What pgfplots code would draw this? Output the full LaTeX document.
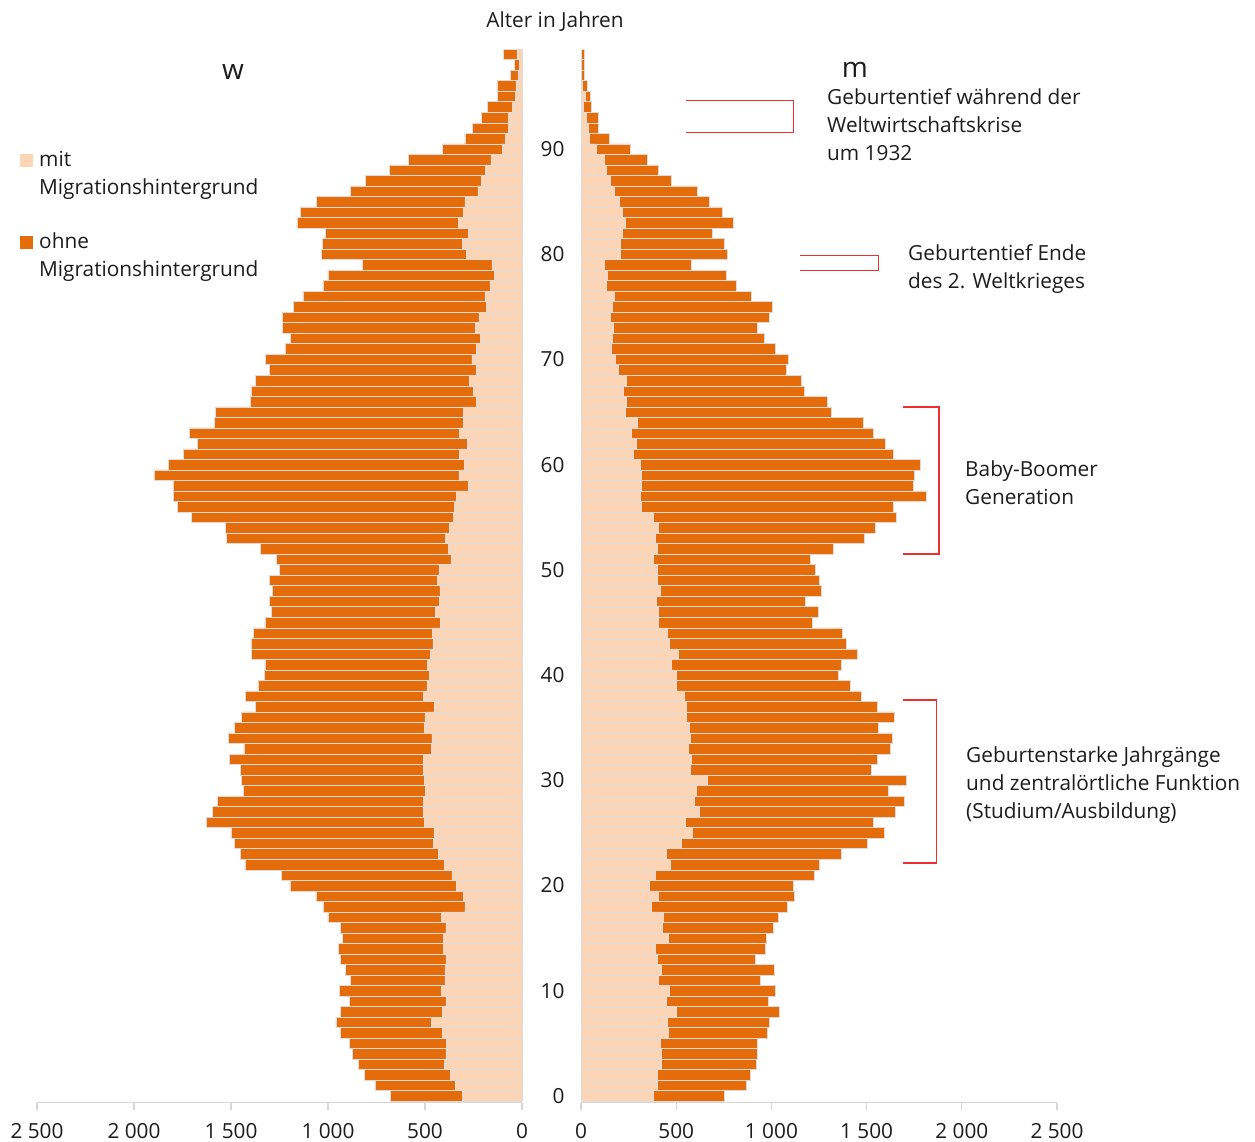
\documentclass[border=0pt]{standalone}
\usepackage{pgfplots}
\pgfplotsset{compat=1.18}
\usepackage{pgfplotstable}
\usepackage{fontspec}
\setmainfont{Open Sans}
\definecolor{ohne}{RGB}{228,108,10}
\definecolor{mit}{RGB}{251,213,181}
\definecolor{sep}{RGB}{224,219,214}
\definecolor{ann}{RGB}{236,48,48}
\definecolor{txt}{RGB}{28,28,28}
\definecolor{axl}{RGB}{215,215,215}

% age, women mit, women ohne, men mit, men ohne
\pgfplotstableread{
age wm wo mm mo
0 308 372 380 374
1 345 414 403 465
2 369 442 401 488
3 399 443 420 499
4 392 484 422 506
5 388 502 417 507
6 411 527 457 523
7 467 492 455 532
8 412 523 501 542
9 392 498 450 535
10 416 527 462 558
11 397 488 406 537
12 397 512 420 593
13 392 544 403 512
14 405 540 390 578
15 405 521 460 511
16 392 546 429 581
17 416 584 432 604
18 294 733 368 715
19 304 758 404 716
20 337 860 361 754
21 361 878 389 836
22 402 1026 467 786
23 431 1022 446 919
24 455 1029 529 974
25 454 1046 583 1008
26 502 1123 546 989
27 507 1089 620 1032
28 510 1059 595 1103
29 498 937 604 1011
30 505 940 662 1046
31 509 944 576 947
32 509 999 581 977
33 467 966 565 1057
34 464 1048 576 1060
35 503 978 567 994
36 500 947 555 1090
37 452 922 555 999
38 509 915 543 931
39 490 872 502 912
40 476 852 499 854
41 486 839 474 895
42 472 923 509 942
43 459 939 464 931
44 462 924 455 917
45 419 907 406 807
46 448 844 406 838
47 424 878 397 781
48 423 862 415 849
49 438 866 399 852
50 428 823 403 829
51 366 902 380 824
52 381 969 403 924
53 395 1127 389 1099
54 375 1154 406 1141
55 354 1349 382 1272
56 349 1426 319 1321
57 340 1457 312 1499
58 277 1523 319 1426
59 325 1573 319 1431
60 297 1524 312 1470
61 321 1424 277 1363
62 282 1391 289 1307
63 321 1394 266 1271
64 302 1284 296 1185
65 302 1280 233 1081
66 237 1163 236 1057
67 249 1148 224 949
68 271 1103 240 915
69 234 1068 193 885
70 259 1064 179 908
71 234 988 161 858
72 215 977 163 798
73 241 993 168 758
74 222 1012 156 835
75 184 996 165 840
76 191 938 172 722
77 165 862 133 683
78 143 857 140 621
79 155 666 121 460
80 287 746 208 560
81 308 721 208 543
82 277 735 219 469
83 328 833 231 571
84 304 840 215 525
85 294 764 203 473
86 228 657 177 434
87 211 595 151 322
88 189 493 130 274
89 161 425 121 226
90 103 309 82 175
91 86 209 42 107
92 69 185 40 51
93 72 136 25 64
94 50 130 12 41
95 34 91 21 28
96 31 98 9 26
97 21 39 2 14
98 12 26 2 14
99 27 69 3 16
}\data

\pgfplotsset{
  pyr/.style={
    xbar stacked, bar width=1,
    scale only axis, height=1053.6pt,
    ymin=-0.65, ymax=99.5, xmin=0, xmax=2500,
    clip=false,
    axis x line*=bottom, axis y line*=left,
    x axis line style={-, draw=axl, line width=1.2pt},
    y axis line style={draw=none},
    ytick style={draw=none},
    xtick={0,500,...,2500},
    xtick style={draw=axl, line width=1.2pt},
    major tick length=7pt, tick align=outside,
    tick label style={font=\fontsize{20.8}{28}\selectfont, text=txt},
    xticklabel style={yshift=-10pt},
    /pgf/number format/.cd, 1000 sep={\ }, assume math mode=true,
  },
  barm/.style={fill=mit, draw=sep, line width=0.5pt},
  baro/.style={fill=ohne, draw=sep, line width=0.5pt},
}

\begin{document}
\begin{tikzpicture}[x=1pt, y=1pt, font=\fontsize{20.8}{28}\selectfont, text=txt]
\path[use as bounding box] (0,0) rectangle (1255,1142);

% women (left)
\begin{axis}[pyr, at={(37pt,39.2pt)}, anchor=south west, width=485pt,
  x dir=reverse, ytick=\empty]
\addplot[barm] table[x=wm, y=age]{\data};
\addplot[baro] table[x=wo, y=age]{\data};
\end{axis}

% men (right)
\begin{axis}[pyr, at={(581pt,39.2pt)}, anchor=south west, width=476pt,
  ytick={0,10,...,90}, yticklabel style={anchor=east, xshift=-6pt}]
\addplot[barm] table[x=mm, y=age]{\data};
\addplot[baro] table[x=mo, y=age]{\data};
\draw[ann, line width=1.2pt] (axis cs:551,94.58) -- (axis cs:1118,94.58) -- (axis cs:1118,91.54) -- (axis cs:551,91.54);
\draw[ann, line width=1.2pt] (axis cs:1150,79.85) -- (axis cs:1564,79.85) -- (axis cs:1564,78.42) -- (axis cs:1150,78.42);
\draw[ann, line width=1.2pt] (axis cs:1690,65.49) -- (axis cs:1880,65.49) -- (axis cs:1880,51.52) -- (axis cs:1690,51.52);
\draw[ann, line width=1.2pt] (axis cs:1690,37.64) -- (axis cs:1869,37.64) -- (axis cs:1869,22.15) -- (axis cs:1690,22.15);
\end{axis}

% titles
\node[anchor=base] at (555,1114.5) {Alter in Jahren};
\node[anchor=base, font=\fontsize{28}{34}\selectfont] at (233,1062) {w};
\node[anchor=base, font=\fontsize{28}{34}\selectfont] at (855,1064) {m};

% legend
\fill[mit] (20,975) rectangle (33,988);
\node[anchor=base west, inner sep=0pt] at (39,975) {mit};
\node[anchor=base west, inner sep=0pt] at (39,947) {Migrationshintergrund};
\fill[ohne] (20,893) rectangle (33,906);
\node[anchor=base west, inner sep=0pt] at (39,893) {ohne};
\node[anchor=base west, inner sep=0pt] at (39,865) {Migrationshintergrund};

% annotations
\node[anchor=base west, inner sep=0pt] at (827,1037) {Geburtentief während der};
\node[anchor=base west, inner sep=0pt] at (827,1009) {Weltwirtschaftskrise};
\node[anchor=base west, inner sep=0pt] at (827,981) {um 1932};
\node[anchor=base west, inner sep=0pt] at (908,881) {Geburtentief Ende};
\node[anchor=base west, inner sep=0pt] at (908,853) {des 2. Weltkrieges};
\node[anchor=base west, inner sep=0pt] at (965,665) {Baby-Boomer};
\node[anchor=base west, inner sep=0pt] at (965,637) {Generation};
\node[anchor=base west, inner sep=0pt] at (966,379) {Geburtenstarke Jahrgänge};
\node[anchor=base west, inner sep=0pt] at (966,351) {und zentralörtliche Funktion};
\node[anchor=base west, inner sep=0pt] at (966,323) {(Studium/Ausbildung)};
\end{tikzpicture}
\end{document}
